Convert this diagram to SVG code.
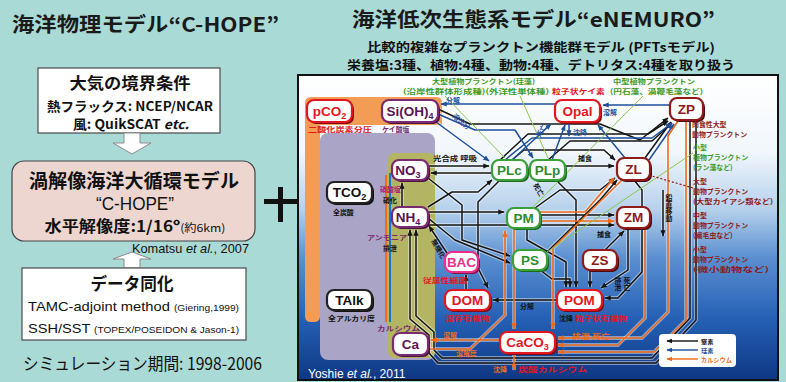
<svg xmlns="http://www.w3.org/2000/svg" width="786" height="382" viewBox="0 0 786 382">
<defs>
<style>
.jp{font-family:"Noto Sans CJK JP","Noto Sans",sans-serif}
.lt{font-family:"Liberation Sans","Noto Sans CJK JP",sans-serif}
.bxl{fill:#fff;stroke:#4a4a4a;stroke-width:1.2}
.harrow{fill:#fff;stroke:#8a8a8a;stroke-width:1}
.nd rect.b{fill:#fff;stroke-width:2.2}
.nd text{font-family:"Liberation Sans",sans-serif;font-weight:bold;font-size:13.5px;text-anchor:middle}
.red rect.b{stroke:#e3161f}.red rect.s{fill:#7e0c12}.red text{fill:#e3161f}
.nut rect.b{stroke:#7a2a6e}.nut rect.s{fill:#4a1242}.nut text{fill:#5a1454}
.car rect.b{stroke:#222}.car rect.s{fill:#111}.car text{fill:#111}
.phy rect.b{stroke:#3aa03a}.phy rect.s{fill:#1d6a1d}.phy text{fill:#2e8b2e}
.zoo rect.b{stroke:#8e1a1a}.zoo rect.s{fill:#4e0a0a}.zoo text{fill:#8e1a1a}
.bac rect.b{stroke:#e8308a}.bac rect.s{fill:#8a1048}.bac text{fill:#e8308a}
.lb{font-family:"Noto Sans CJK JP",sans-serif;font-size:6.9px;font-weight:bold}
.lg{font-family:"Noto Sans CJK JP",sans-serif;font-size:6.2px;font-weight:bold}
.halo{fill:none;stroke:rgba(255,255,255,0.45);stroke-width:3.8;stroke-linejoin:round;marker-end:none}
.cN{fill:none;stroke:#141414;stroke-width:1.5;stroke-linejoin:round;marker-end:url(#mk)}
.cB{fill:none;stroke:#1d4f9c;stroke-width:1.5;stroke-linejoin:round;marker-end:url(#mb)}
.cO{fill:none;stroke:#f06a1a;stroke-width:1.6;stroke-linejoin:round;marker-end:url(#mo)}
.gl{fill:none;stroke:#8cc84a;stroke-width:1}
</style>
<linearGradient id="panelG" x1="0" y1="0" x2="0" y2="1">
<stop offset="0" stop-color="#ffffff"/>
<stop offset="0.25" stop-color="#f2f7fc"/>
<stop offset="0.44" stop-color="#b6d1ec"/>
<stop offset="0.6" stop-color="#5a8fd0"/>
<stop offset="0.8" stop-color="#2560b4"/>
<stop offset="1" stop-color="#0e3784"/>
</linearGradient>
<marker id="mk" viewBox="0 0 10 10" refX="9" refY="5" markerWidth="4.2" markerHeight="4.2" orient="auto"><path d="M0,1 L10,5 L0,9 z" fill="#141414"/></marker>
<marker id="mb" viewBox="0 0 10 10" refX="9" refY="5" markerWidth="4.2" markerHeight="4.2" orient="auto"><path d="M0,1 L10,5 L0,9 z" fill="#1d4f9c"/></marker>
<marker id="mo" viewBox="0 0 10 10" refX="9" refY="5" markerWidth="4.2" markerHeight="4.2" orient="auto"><path d="M0,1 L10,5 L0,9 z" fill="#f06a1a"/></marker>
<g id="pN">
<path d="M428,166 H489"/>
<path d="M492,173 H431"/>
<path d="M565,166 H614"/>
<path d="M512,160 L524,150 H604 L615,160"/>
<path d="M500,160 L528,134 H648 L668,121"/>
<path d="M548,160 L570,141 H652 L672,123"/>
<path d="M645,158 L671,122"/>
<path d="M540,215 H614"/>
<path d="M428,212 H504"/>
<path d="M428,225 H614"/>
<path d="M428,207 L452,192 H478 L492,180"/>
<path d="M500,180 L478,202 V268 L488,288"/>
<path d="M556,180 L576,200 V287"/>
<path d="M527,228 V240 L566,262 V287"/>
<path d="M540,270 L552,279 H570 V287"/>
<path d="M590,270 V287"/>
<path d="M628,228 V270 L601,288"/>
<path d="M634,180 L642,190 V272 L618,298 H605"/>
<path d="M690,120 V318 L652,358 H442 L434,350 V332 L416,316 V230"/>
<path d="M696,120 V320 L656,363 H438 L429,353 V335 L410,319 V230"/>
<path d="M447,253 L429,226"/>
<path d="M466,290 V275"/>
<path d="M557,300 H493"/>
<path d="M402,207 V183"/>
<path d="M428,178 L462,205 V240 L510,256"/>
<path d="M428,218 L455,240 L510,263"/>
<path d="M547,252 L600,200 L617,180"/>
<path d="M605,250 L624,231"/>
<path d="M535,208 L560,190 H600 L615,178"/>
<path d="M663,190 V236"/>
<path d="M438,109 L470,124 H600 L640,140 L668,118"/>
</g>
<g id="pB">
<path d="M555,104 H441"/>
<path d="M670,105 H603"/>
<path d="M436,122 L489,161"/>
<path d="M438,114 L475,130 H515 L533,158"/>
<path d="M512,160 L551,124"/>
<path d="M552,160 L565,125"/>
<path d="M625,158 L598,125"/>
<path d="M569,124 V136"/>
<path d="M505,160 L532,138 H652 L672,123"/>
<path d="M649,160 L674,124"/>
</g>
<g id="pO">
<path d="M500,340 H431"/>
<path d="M428,349 H470 L505,315 V231"/>
<path d="M514,229 V329"/>
<path d="M540,212 H585 L614,178"/>
<path d="M540,221 H614"/>
<path d="M622,180 L553,248 V329"/>
<path d="M678,121 L668,136 V312 L642,338 H558"/>
<path d="M645,228 V318 L618,345 H558"/>
<path d="M686,121 V320 L654,352 H558"/>
<path d="M514,353 V370"/>
</g>
</defs>

<rect x="0" y="0" width="786" height="382" fill="#a9dad6"/>

<!-- LEFT: physical model -->
<g id="left-title">
<text class="jp" x="12" y="32" font-size="20" font-weight="bold" fill="#1a1a1a" textLength="267" lengthAdjust="spacingAndGlyphs">海洋物理モデル“C-HOPE”</text>
</g>
<g id="box-atmos">
<rect class="bxl" x="38" y="68" width="182" height="65"/>
<text class="jp" x="130" y="89" font-size="16" font-weight="bold" text-anchor="middle" fill="#111" textLength="121" lengthAdjust="spacingAndGlyphs">大気の境界条件</text>
<text class="jp" x="130" y="110.5" font-size="12.7" font-weight="bold" text-anchor="middle" fill="#111" textLength="166" lengthAdjust="spacingAndGlyphs">熱フラックス: NCEP/NCAR</text>
<text class="jp" x="131" y="129" font-size="12.7" font-weight="bold" text-anchor="middle" fill="#111" textLength="116" lengthAdjust="spacingAndGlyphs">風: QuikSCAT <tspan font-style="italic">etc.</tspan></text>
</g>
<g id="arrow-down">
<path class="harrow" d="M124,133 H140 V143 H151 L132,154 L113,143 H124 Z"/>
</g>
<g id="box-model">
<rect x="12" y="161" width="243" height="80" rx="12" fill="#ecd6cf" stroke="#444" stroke-width="1.2"/>
<text class="jp" x="134" y="188" font-size="19" font-weight="bold" text-anchor="middle" fill="#111" textLength="210" lengthAdjust="spacingAndGlyphs">渦解像海洋大循環モデル</text>
<text class="lt" x="135" y="210" font-size="18" text-anchor="middle" fill="#111" textLength="78" lengthAdjust="spacingAndGlyphs">“C-HOPE”</text>
<text class="jp" x="135" y="232" font-size="15.5" font-weight="bold" text-anchor="middle" fill="#111" textLength="181" lengthAdjust="spacingAndGlyphs">水平解像度:1/16º<tspan font-size="11" font-weight="normal">(約6km)</tspan></text>
</g>
<g id="cite-komatsu">
<text class="lt" x="132" y="253" font-size="13" fill="#111" textLength="117" lengthAdjust="spacingAndGlyphs">Komatsu <tspan font-style="italic">et al.</tspan>, 2007</text>
</g>
<g id="arrow-up">
<path class="harrow" d="M124,268 V259 H113 L132,252 L151,259 H140 V268 Z"/>
</g>
<g id="box-assim">
<rect class="bxl" x="22" y="268" width="224" height="72"/>
<text class="jp" x="132" y="290" font-size="17" font-weight="bold" text-anchor="middle" fill="#111" textLength="83" lengthAdjust="spacingAndGlyphs">データ同化</text>
<text class="lt" x="28" y="311" font-size="13" fill="#111" textLength="211" lengthAdjust="spacingAndGlyphs">TAMC-adjoint method <tspan font-size="9">(Giering,1999)</tspan></text>
<text class="lt" x="28" y="333" font-size="13" fill="#111" textLength="211" lengthAdjust="spacingAndGlyphs">SSH/SST <tspan font-size="9">(TOPEX/POSEIDON &amp; Jason-1)</tspan></text>
</g>
<g id="sim-period">
<text class="jp" x="23" y="370" font-size="17" fill="#111" textLength="239" lengthAdjust="spacingAndGlyphs">シミュレーション期間: 1998-2006</text>
</g>
<g id="plus">
<rect x="264" y="199" width="33" height="5" fill="#111"/>
<rect x="278" y="187" width="5" height="35" fill="#111"/>
</g>

<!-- RIGHT: ecosystem model -->
<g id="right-title">
<text class="jp" x="352" y="27" font-size="20" font-weight="bold" fill="#1a1a1a" textLength="363" lengthAdjust="spacingAndGlyphs">海洋低次生態系モデル“eNEMURO”</text>
<text class="jp" x="367" y="52" font-size="12.5" font-weight="bold" fill="#111" textLength="348" lengthAdjust="spacingAndGlyphs">比較的複雑なプランクトン機能群モデル (PFTsモデル)</text>
<text class="jp" x="347" y="69.5" font-size="12.5" font-weight="bold" fill="#111" textLength="388" lengthAdjust="spacingAndGlyphs">栄養塩:3種、植物:4種、動物:4種、デトリタス:4種を取り扱う</text>
</g>

<g id="panel">
<rect x="298" y="75" width="480" height="305" fill="url(#panelG)" stroke="#111" stroke-width="2"/>
<path d="M311,97 H436 Q442,97 442,103 V125 H320 V316 Q320,322 314,322 H311 Q305,322 305,316 V103 Q305,97 311,97 Z" fill="#f29c55"/>
<rect x="320" y="133" width="115" height="227" rx="8" fill="#aaa4c6"/>
<rect x="388" y="153" width="47" height="205" rx="6" fill="#b3b562"/>
</g>

<g id="connectors">
<use href="#pN" class="halo"/>
<use href="#pB" class="halo"/>
<use href="#pO" class="halo"/>
<use href="#pN" class="cN"/>
<use href="#pB" class="cB"/>
<use href="#pO" class="cO"/>
<path d="M390,173 V322" fill="none" stroke="#1d6fd0" stroke-width="2"/>
<path d="M386,175 V322" fill="none" stroke="#f06a1a" stroke-width="2"/>
<path class="gl" d="M445,96 L505,158"/>
<path class="gl" d="M520,96 L548,158"/>
<path class="gl" d="M643,96 L533,207"/>
<path class="gl" d="M693,153 L547,252"/>
<path d="M693,188 L652,176" fill="none" stroke="#8e1a1a" stroke-width="1.2" stroke-dasharray="2,2"/>
</g>

<!-- nodes -->
<g id="n-pco2" class="nd red"><rect class="s" x="309" y="102" width="45" height="22" rx="7"/><rect class="b" x="307" y="100" width="45" height="22" rx="7"/><text x="329.5" y="116">pCO<tspan font-size="9" dy="3">2</tspan></text></g>
<g id="n-sioh4" class="nd nut"><rect class="s" x="384" y="102" width="56" height="22" rx="7"/><rect class="b" x="382" y="100" width="56" height="22" rx="7"/><text x="410" y="116">Si(OH)<tspan font-size="9" dy="3">4</tspan></text></g>
<g id="n-opal" class="nd red"><rect class="s" x="557" y="102" width="45" height="22" rx="7"/><rect class="b" x="555" y="100" width="45" height="22" rx="7"/><text x="577.5" y="116">Opal</text></g>
<g id="n-zp" class="nd zoo"><rect class="s" x="672" y="100" width="33" height="22" rx="7"/><rect class="b" x="670" y="98" width="33" height="22" rx="7"/><text x="686.5" y="114">ZP</text></g>
<g id="n-no3" class="nd nut"><rect class="s" x="394" y="162" width="36" height="20" rx="7"/><rect class="b" x="392" y="160" width="36" height="20" rx="7"/><text x="408" y="175">NO<tspan font-size="9" dy="3">3</tspan></text></g>
<g id="n-plc" class="nd phy"><rect class="s" x="494" y="162" width="35" height="20" rx="7"/><rect class="b" x="492" y="160" width="35" height="20" rx="7"/><text x="509.5" y="175">PLc</text></g>
<g id="n-plp" class="nd phy"><rect class="s" x="532" y="162" width="35" height="20" rx="7"/><rect class="b" x="530" y="160" width="35" height="20" rx="7"/><text x="547.5" y="175">PLp</text></g>
<g id="n-zl" class="nd zoo"><rect class="s" x="619" y="160" width="33" height="22" rx="7"/><rect class="b" x="617" y="158" width="33" height="22" rx="7"/><text x="633.5" y="174">ZL</text></g>
<g id="n-tco2" class="nd car"><rect class="s" x="329" y="184" width="45" height="21" rx="7"/><rect class="b" x="327" y="182" width="45" height="21" rx="7"/><text x="349.5" y="197">TCO<tspan font-size="9" dy="3">2</tspan></text></g>
<g id="n-nh4" class="nd nut"><rect class="s" x="394" y="209" width="36" height="20" rx="7"/><rect class="b" x="392" y="207" width="36" height="20" rx="7"/><text x="408" y="222">NH<tspan font-size="9" dy="3">4</tspan></text></g>
<g id="n-pm" class="nd phy"><rect class="s" x="509" y="210" width="33" height="20" rx="7"/><rect class="b" x="507" y="208" width="33" height="20" rx="7"/><text x="523.5" y="223">PM</text></g>
<g id="n-zm" class="nd zoo"><rect class="s" x="619" y="209" width="33" height="21" rx="7"/><rect class="b" x="617" y="207" width="33" height="21" rx="7"/><text x="633.5" y="222">ZM</text></g>
<g id="n-bac" class="nd bac"><rect class="s" x="447" y="254" width="33" height="20" rx="7"/><rect class="b" x="445" y="252" width="33" height="20" rx="7"/><text x="461.5" y="267">BAC</text></g>
<g id="n-ps" class="nd phy"><rect class="s" x="515" y="252" width="34" height="20" rx="7"/><rect class="b" x="513" y="250" width="34" height="20" rx="7"/><text x="530" y="265">PS</text></g>
<g id="n-zs" class="nd zoo"><rect class="s" x="585" y="252" width="34" height="20" rx="7"/><rect class="b" x="583" y="250" width="34" height="20" rx="7"/><text x="600" y="265">ZS</text></g>
<g id="n-talk" class="nd car"><rect class="s" x="329" y="292" width="45" height="20" rx="7"/><rect class="b" x="327" y="290" width="45" height="20" rx="7"/><text x="349.5" y="305">TAlk</text></g>
<g id="n-dom" class="nd red"><rect class="s" x="447" y="292" width="45" height="20" rx="7"/><rect class="b" x="445" y="290" width="45" height="20" rx="7"/><text x="467.5" y="305">DOM</text></g>
<g id="n-pom" class="nd red"><rect class="s" x="559" y="292" width="45" height="20" rx="7"/><rect class="b" x="557" y="290" width="45" height="20" rx="7"/><text x="579.5" y="305">POM</text></g>
<g id="n-ca" class="nd nut"><rect class="s" x="395" y="335" width="35" height="22" rx="7"/><rect class="b" x="393" y="333" width="35" height="22" rx="7"/><text x="410.5" y="349">Ca</text></g>
<g id="n-caco3" class="nd red"><rect class="s" x="502" y="334" width="55" height="21" rx="7"/><rect class="b" x="500" y="332" width="55" height="21" rx="7"/><text x="527.5" y="347">CaCO<tspan font-size="9" dy="3">3</tspan></text></g>

<!-- labels -->
<g id="labels">
<text class="lb" x="432" y="84" fill="#3a9a2a" textLength="103" lengthAdjust="spacingAndGlyphs">大型植物プランクトン(珪藻)</text>
<text class="lb" x="403" y="94" fill="#3a9a2a" textLength="146" lengthAdjust="spacingAndGlyphs">(沿岸性群体形成種)(外洋性単体種)</text>
<text class="lb" x="552" y="94" fill="#e3161f" textLength="53" lengthAdjust="spacingAndGlyphs">粒子状ケイ素</text>
<text class="lb" x="613" y="84" fill="#3a9a2a" textLength="82" lengthAdjust="spacingAndGlyphs">中型植物プランクトン</text>
<text class="lb" x="610" y="94" fill="#3a9a2a" textLength="93" lengthAdjust="spacingAndGlyphs">(円石藻、渦鞭毛藻など)</text>
<text class="lb" x="446" y="103" fill="#1d4f9c">分解</text>
<text class="lb" x="452" y="117" fill="#1d4f9c" transform="rotate(40 452 117)">溶出分</text>
<text class="lb" x="540" y="138" fill="#1d4f9c" transform="rotate(-60 540 138)">死亡</text>
<text class="lb" x="573" y="135" fill="#1d4f9c">沈降</text>
<text class="lb" x="603" y="115" fill="#1d4f9c">溶解</text>
<text class="lb" x="308" y="132" fill="#e3161f" textLength="64" lengthAdjust="spacingAndGlyphs">二酸化炭素分圧</text>
<text class="lb" x="382" y="132" fill="#7a2a6e">ケイ酸塩</text>
<text class="lb" x="433" y="161" fill="#111" textLength="44" lengthAdjust="spacingAndGlyphs">光合成 呼吸</text>
<text class="lb" x="578" y="161" fill="#111">捕食</text>
<text class="lb" x="333" y="215" fill="#111">全炭酸</text>
<text class="lb" x="380" y="192" fill="#b0207a">硝酸塩</text>
<text class="lb" x="383" y="203" fill="#111">硝化</text>
<text class="lb" x="367" y="240" fill="#7a2a6e" textLength="40" lengthAdjust="spacingAndGlyphs">アンモニア</text>
<text class="lb" x="383" y="251" fill="#111">排泄</text>
<text class="lb" x="431" y="241" fill="#111" transform="rotate(60 431 241)">無機化</text>
<text class="lb" x="533" y="185" fill="#111" transform="rotate(60 533 185)">死亡</text>
<text class="lb" x="597" y="237" fill="#111">捕食</text>
<text class="lb" x="423" y="283" fill="#e3161f" textLength="44" lengthAdjust="spacingAndGlyphs">従属性細菌</text>
<text class="lb" x="520" y="309" fill="#111">分解</text>
<text class="lb" x="445" y="321" fill="#e3161f" textLength="45" lengthAdjust="spacingAndGlyphs">溶存有機物</text>
<text class="lb" x="559" y="321" fill="#111">沈降</text>
<text class="lb" x="575" y="321" fill="#e3161f" textLength="52" lengthAdjust="spacingAndGlyphs">粒子状有機物</text>
<text class="lb" x="328" y="321" fill="#111" textLength="47" lengthAdjust="spacingAndGlyphs">全アルカリ度</text>
<text class="lb" x="377" y="331" fill="#7a2a6e" textLength="43" lengthAdjust="spacingAndGlyphs">カルシウム</text>
<text class="lb" x="443" y="338" fill="#f06a1a">溶解</text>
<text class="lb" x="456" y="356" fill="#f06a1a">溶解度</text>
<text class="lb" x="572" y="339" fill="#f06a1a" textLength="38" lengthAdjust="spacingAndGlyphs">排泄 死亡</text>
<text class="lb" x="493" y="372" fill="#f06a1a">沈降</text>
<text class="lb" x="518" y="372" fill="#e3161f" textLength="69" lengthAdjust="spacingAndGlyphs">炭酸カルシウム</text>
<text class="lb" x="618" y="277" fill="#111" writing-mode="tb">排泄</text>
<text class="lb" x="627" y="277" fill="#111" writing-mode="tb">死亡</text>
<text class="lb" x="669" y="194" fill="#111" writing-mode="tb">鉛直移動</text>
<text class="lb" x="692" y="127" fill="#8e1a1a">肉食性大型</text>
<text class="lb" x="692" y="137" fill="#8e1a1a">動物プランクトン</text>
<text class="lb" x="693" y="150" fill="#3a9a2a">小型</text>
<text class="lb" x="693" y="160" fill="#3a9a2a">植物プランクトン</text>
<text class="lb" x="693" y="170" fill="#3a9a2a">(ラン藻など)</text>
<text class="lb" x="693" y="184" fill="#8e1a1a">大型</text>
<text class="lb" x="693" y="194" fill="#8e1a1a">動物プランクトン</text>
<text class="lb" x="693" y="204" fill="#8e1a1a" textLength="80" lengthAdjust="spacingAndGlyphs">(大型カイアシ類など)</text>
<text class="lb" x="693" y="218" fill="#8e1a1a">中型</text>
<text class="lb" x="693" y="228" fill="#8e1a1a">動物プランクトン</text>
<text class="lb" x="693" y="238" fill="#8e1a1a">(繊毛虫など)</text>
<text class="lb" x="693" y="252" fill="#8e1a1a">小型</text>
<text class="lb" x="693" y="262" fill="#8e1a1a">動物プランクトン</text>
<text class="lb" x="693" y="272" fill="#8e1a1a" textLength="76" lengthAdjust="spacingAndGlyphs">(微小動物など)</text>
</g>

<g id="legend">
<rect x="659" y="334" width="77" height="33" rx="4" fill="#fff"/>
<path d="M698,341 H667" fill="none" stroke="#141414" stroke-width="1.4" marker-end="url(#mk)"/>
<path d="M698,350 H667" fill="none" stroke="#1d4f9c" stroke-width="1.4" marker-end="url(#mb)"/>
<path d="M698,359 H667" fill="none" stroke="#f06a1a" stroke-width="1.4" marker-end="url(#mo)"/>
<text class="lg" x="701" y="343.5" fill="#111">窒素</text>
<text class="lg" x="701" y="352.5" fill="#1d4f9c">珪素</text>
<text class="lg" x="701" y="361.5" fill="#f06a1a">カルシウム</text>
</g>

<g id="cite-yoshie">
<text class="lt" x="308" y="378" font-size="12" fill="#fff">Yoshie <tspan font-style="italic">et al.</tspan>, 2011</text>
</g>
</svg>
